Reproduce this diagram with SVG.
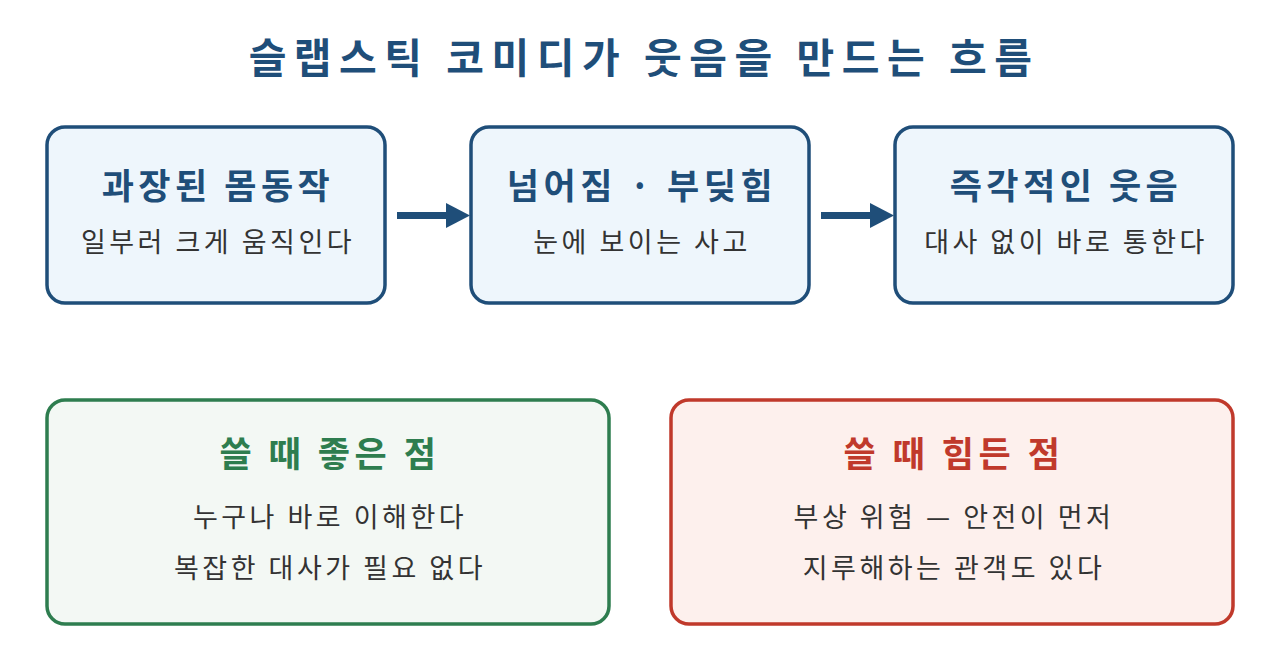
<svg xmlns="http://www.w3.org/2000/svg" width="1280" height="672" viewBox="0 0 1280 672">
<style>
text{font-family:"Noto Sans CJK KR","Noto Sans",sans-serif;text-anchor:middle}
.t{font-size:41px;font-weight:700;fill:#1f4e79;letter-spacing:7.5px}
.h{font-size:35px;font-weight:700;letter-spacing:4.5px}
.s{font-size:27px;fill:#333;letter-spacing:3.5px}
.bb{fill:#eef6fc;stroke:#1f4e79;stroke-width:3.5}
.gb{fill:#f3f8f4;stroke:#2e7d4f;stroke-width:3.5}
.rb{fill:#fdf0ed;stroke:#c0392b;stroke-width:3.5}
.conn{stroke:#1f4e79;stroke-width:7;fill:none}
</style>
<defs>
<marker id="ah" viewBox="0 0 24 25" refX="0" refY="12.5" markerWidth="24" markerHeight="25" markerUnits="userSpaceOnUse" orient="auto">
<path d="M0,0 L24,12.5 L0,25 Z" fill="#1f4e79"/>
</marker>
</defs>
<rect width="1280" height="672" fill="#fff"/>
<text class="t" x="644" y="73">슬랩스틱 코미디가 웃음을 만드는 흐름</text>
<g id="n1">
<rect class="bb" x="47" y="127" width="338" height="176" rx="18"/>
<text class="h" x="218" y="199" fill="#1f4e79">과장된 몸동작</text>
<text class="s" x="218" y="252">일부러 크게 움직인다</text>
</g>
<g id="n2">
<rect class="bb" x="471" y="127" width="338" height="176" rx="18"/>
<text class="h" x="642" y="199" fill="#1f4e79">넘어짐 · 부딪힘</text>
<text class="s" x="642" y="252">눈에 보이는 사고</text>
</g>
<g id="n3">
<rect class="bb" x="895" y="127" width="338" height="176" rx="18"/>
<text class="h" x="1066" y="199" fill="#1f4e79">즉각적인 웃음</text>
<text class="s" x="1066" y="252">대사 없이 바로 통한다</text>
</g>
<g id="connectors">
<line class="conn" x1="397" y1="215.5" x2="446" y2="215.5" marker-end="url(#ah)"/>
<line class="conn" x1="821" y1="215.5" x2="870" y2="215.5" marker-end="url(#ah)"/>
</g>
<g id="pros">
<rect class="gb" x="47" y="400" width="562" height="224" rx="18"/>
<text class="h" x="330" y="467" fill="#2e7d4f" font-size="32">쓸 때 좋은 점</text>
<text class="s" x="330" y="527">누구나 바로 이해한다</text>
<text class="s" x="330" y="578">복잡한 대사가 필요 없다</text>
</g>
<g id="cons">
<rect class="rb" x="671" y="400" width="562" height="224" rx="18"/>
<text class="h" x="954" y="467" fill="#c0392b" font-size="32">쓸 때 힘든 점</text>
<text class="s" x="954" y="527">부상 위험 — 안전이 먼저</text>
<text class="s" x="954" y="578">지루해하는 관객도 있다</text>
</g>
</svg>
